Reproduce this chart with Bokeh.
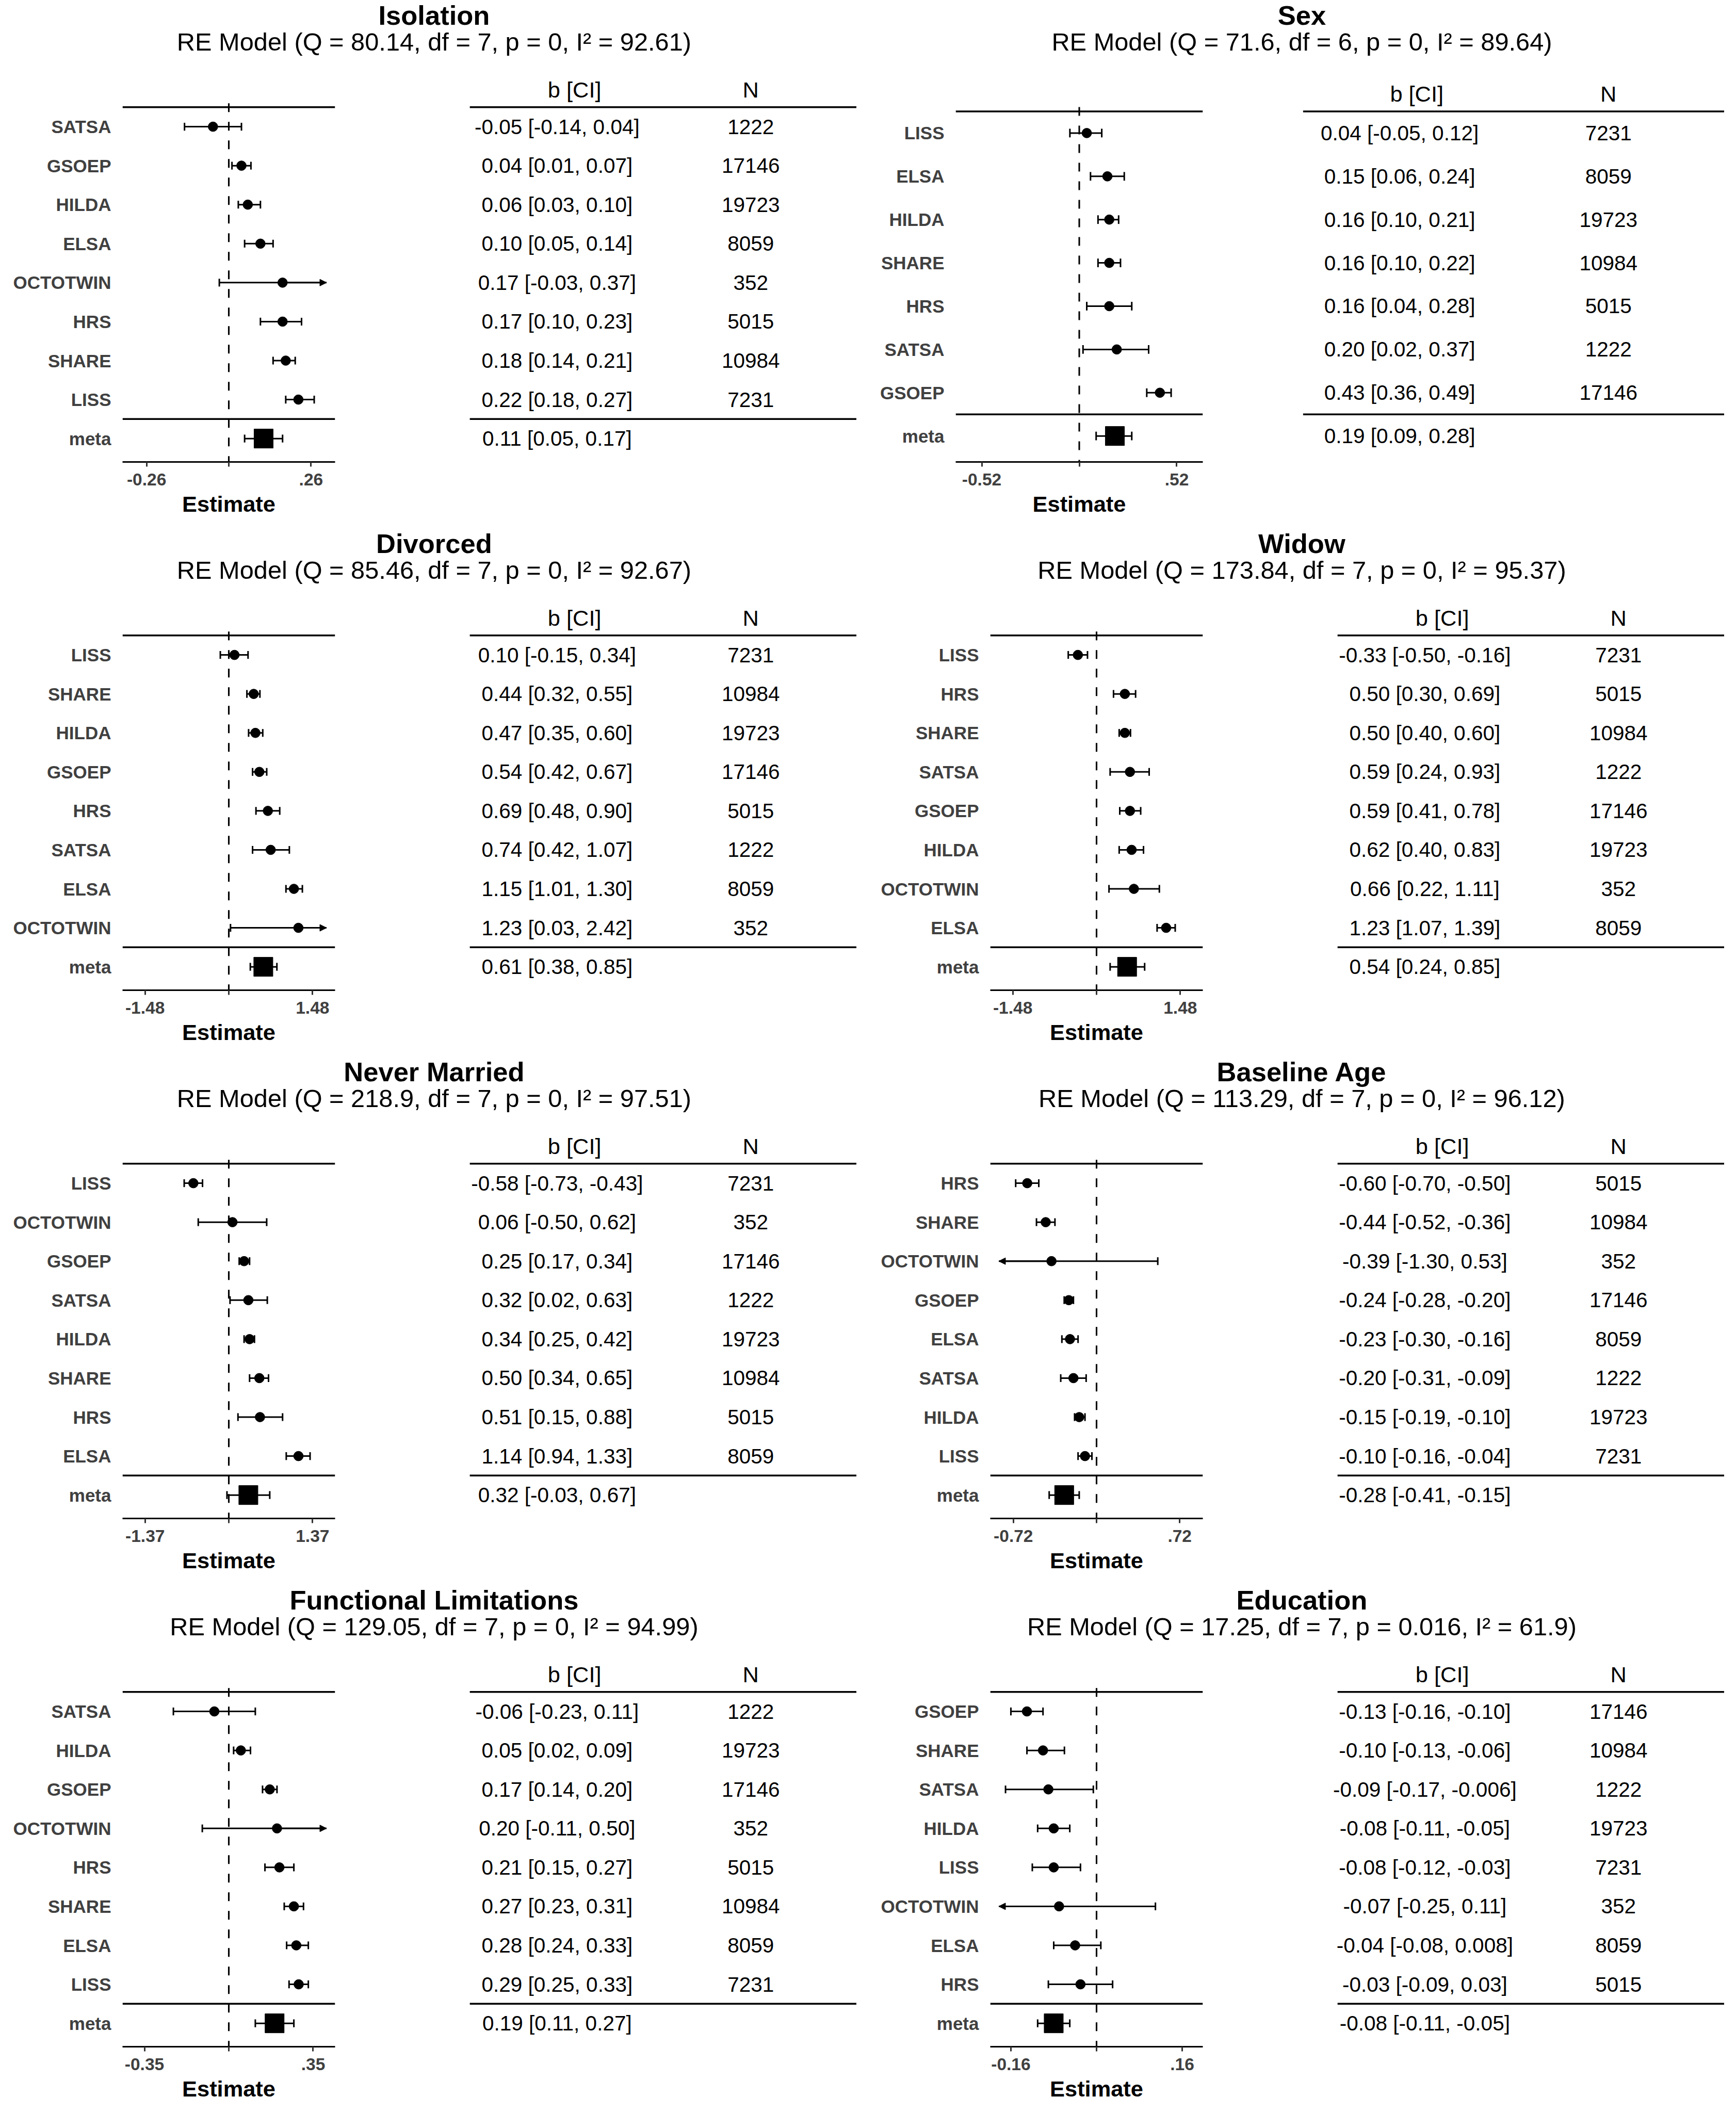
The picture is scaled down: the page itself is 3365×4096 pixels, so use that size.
from bokeh.plotting import figure
from bokeh.models import Range1d, FixedTicker, ColumnDataSource, Arrow, NormalHead
from bokeh.layouts import column, row
from bokeh.core.properties import value
from bokeh.embed import file_html
from bokeh.resources import INLINE

# ------------------------------------------------------------------ data
titles = ["Isolation", "Sex", "Divorced", "Widow", "Never Married",
          "Baseline Age", "Functional Limitations", "Education"]
q_stat = [80.14, 71.6, 85.46, 173.84, 218.9, 113.29, 129.05, 17.25]
df_stat = [7, 6, 7, 7, 7, 7, 7, 7]
p_stat = [0, 0, 0, 0, 0, 0, 0, 0.016]
i2_stat = [92.61, 89.64, 92.67, 95.37, 97.51, 96.12, 94.99, 61.9]

iso_study = ["SATSA", "GSOEP", "HILDA", "ELSA", "OCTOTWIN", "HRS", "SHARE", "LISS"]
iso_b = [-0.05, 0.04, 0.06, 0.10, 0.17, 0.17, 0.18, 0.22]
iso_lo = [-0.14, 0.01, 0.03, 0.05, -0.03, 0.10, 0.14, 0.18]
iso_hi = [0.04, 0.07, 0.10, 0.14, 0.37, 0.23, 0.21, 0.27]
iso_n = [1222, 17146, 19723, 8059, 352, 5015, 10984, 7231]
iso_meta = [0.11, 0.05, 0.17]

sex_study = ["LISS", "ELSA", "HILDA", "SHARE", "HRS", "SATSA", "GSOEP"]
sex_b = [0.04, 0.15, 0.16, 0.16, 0.16, 0.20, 0.43]
sex_lo = [-0.05, 0.06, 0.10, 0.10, 0.04, 0.02, 0.36]
sex_hi = [0.12, 0.24, 0.21, 0.22, 0.28, 0.37, 0.49]
sex_n = [7231, 8059, 19723, 10984, 5015, 1222, 17146]
sex_meta = [0.19, 0.09, 0.28]

div_study = ["LISS", "SHARE", "HILDA", "GSOEP", "HRS", "SATSA", "ELSA", "OCTOTWIN"]
div_b = [0.10, 0.44, 0.47, 0.54, 0.69, 0.74, 1.15, 1.23]
div_lo = [-0.15, 0.32, 0.35, 0.42, 0.48, 0.42, 1.01, 0.03]
div_hi = [0.34, 0.55, 0.60, 0.67, 0.90, 1.07, 1.30, 2.42]
div_n = [7231, 10984, 19723, 17146, 5015, 1222, 8059, 352]
div_meta = [0.61, 0.38, 0.85]

wid_study = ["LISS", "HRS", "SHARE", "SATSA", "GSOEP", "HILDA", "OCTOTWIN", "ELSA"]
wid_b = [-0.33, 0.50, 0.50, 0.59, 0.59, 0.62, 0.66, 1.23]
wid_lo = [-0.50, 0.30, 0.40, 0.24, 0.41, 0.40, 0.22, 1.07]
wid_hi = [-0.16, 0.69, 0.60, 0.93, 0.78, 0.83, 1.11, 1.39]
wid_n = [7231, 5015, 10984, 1222, 17146, 19723, 352, 8059]
wid_meta = [0.54, 0.24, 0.85]

nev_study = ["LISS", "OCTOTWIN", "GSOEP", "SATSA", "HILDA", "SHARE", "HRS", "ELSA"]
nev_b = [-0.58, 0.06, 0.25, 0.32, 0.34, 0.50, 0.51, 1.14]
nev_lo = [-0.73, -0.50, 0.17, 0.02, 0.25, 0.34, 0.15, 0.94]
nev_hi = [-0.43, 0.62, 0.34, 0.63, 0.42, 0.65, 0.88, 1.33]
nev_n = [7231, 352, 17146, 1222, 19723, 10984, 5015, 8059]
nev_meta = [0.32, -0.03, 0.67]

age_study = ["HRS", "SHARE", "OCTOTWIN", "GSOEP", "ELSA", "SATSA", "HILDA", "LISS"]
age_b = [-0.60, -0.44, -0.39, -0.24, -0.23, -0.20, -0.15, -0.10]
age_lo = [-0.70, -0.52, -1.30, -0.28, -0.30, -0.31, -0.19, -0.16]
age_hi = [-0.50, -0.36, 0.53, -0.20, -0.16, -0.09, -0.10, -0.04]
age_n = [5015, 10984, 352, 17146, 8059, 1222, 19723, 7231]
age_meta = [-0.28, -0.41, -0.15]

fun_study = ["SATSA", "HILDA", "GSOEP", "OCTOTWIN", "HRS", "SHARE", "ELSA", "LISS"]
fun_b = [-0.06, 0.05, 0.17, 0.20, 0.21, 0.27, 0.28, 0.29]
fun_lo = [-0.23, 0.02, 0.14, -0.11, 0.15, 0.23, 0.24, 0.25]
fun_hi = [0.11, 0.09, 0.20, 0.50, 0.27, 0.31, 0.33, 0.33]
fun_n = [1222, 19723, 17146, 352, 5015, 10984, 8059, 7231]
fun_meta = [0.19, 0.11, 0.27]

edu_study = ["GSOEP", "SHARE", "SATSA", "HILDA", "LISS", "OCTOTWIN", "ELSA", "HRS"]
edu_b = [-0.13, -0.10, -0.09, -0.08, -0.08, -0.07, -0.04, -0.03]
edu_lo = [-0.16, -0.13, -0.17, -0.11, -0.12, -0.25, -0.08, -0.09]
edu_hi = [-0.10, -0.06, -0.006, -0.05, -0.03, 0.11, 0.008, 0.03]
edu_n = [17146, 10984, 1222, 19723, 7231, 352, 8059, 5015]
edu_meta = [-0.08, -0.11, -0.05]

tick_val = [0.26, 0.52, 1.48, 1.48, 1.37, 0.72, 0.35, 0.16]
tick_neg = ["-0.26", "-0.52", "-1.48", "-1.48", "-1.37", "-0.72", "-0.35", "-0.16"]
tick_pos = [".26", ".52", "1.48", "1.48", "1.37", ".72", ".35", ".16"]

panels_data = [
    (iso_study, iso_b, iso_lo, iso_hi, iso_n, iso_meta),
    (sex_study, sex_b, sex_lo, sex_hi, sex_n, sex_meta),
    (div_study, div_b, div_lo, div_hi, div_n, div_meta),
    (wid_study, wid_b, wid_lo, wid_hi, wid_n, wid_meta),
    (nev_study, nev_b, nev_lo, nev_hi, nev_n, nev_meta),
    (age_study, age_b, age_lo, age_hi, age_n, age_meta),
    (fun_study, fun_b, fun_lo, fun_hi, fun_n, fun_meta),
    (edu_study, edu_b, edu_lo, edu_hi, edu_n, edu_meta),
]

# ------------------------------------------------------------------ layout / style
x_half = [0.336, 0.659, 1.878, 1.878, 1.739, 0.920, 0.441, 0.1985]  # axis half-range
S = 0.975
PW, PH = 1682, 1024
TH = 137                      # title strip height (px)
AXIS_REF = 917.7              # axis line y (reference px, panel-local)
FOREST_R = 666                # forest right edge (reference px)
TABLE_R = 1702
TABLE_PAD = 40                # table figure starts this far left of its rule
FONT = "Liberation Sans"
GREY = "#404040"

lay_std = dict(fl=243, tl=212.6, tab_l=933.5, bh_x=1141.7, bv_x=1107, n_x=1492, hdr_y=178.3)
lay_sex = dict(fl=174, tl=221.0, tab_l=865, bh_x=1091, bv_x=1057, n_x=1472, hdr_y=186.5)
lays = [lay_std, lay_sex] + [lay_std] * 6


def fmt(v):
    if v != 0 and abs(v) < 0.01:
        return f"{v:.3f}"
    return f"{v:.2f}"


def blank(fig):
    fig.grid.visible = False
    fig.outline_line_color = None
    fig.background_fill_color = "white"
    fig.border_fill_color = "white"


def build(i):
    L = lays[i]
    studies, b, lo, hi, ns, meta = panels_data[i]
    n = len(studies)
    R = x_half[i]
    clamp = 0.92 * R
    t = tick_val[i]

    axis_out = round(AXIS_REF * S)
    fw = round((L["tab_l"] - TABLE_PAD) * S)
    fh = PH - TH
    frame_h = axis_out - TH
    mb_bot = fh - frame_h
    fl = round(L["fl"] * S)
    fr = round(FOREST_R * S)
    rho = (axis_out - L["tl"] * S) / (n + 1.1)
    y0 = -n - 0.6
    y1 = y0 + frame_h / rho

    # ---------------- forest plot
    pf = figure(width=fw, height=fh, x_range=Range1d(-R, R), y_range=Range1d(y0, y1),
                min_border_left=fl, min_border_right=fw - fr, min_border_top=0,
                min_border_bottom=mb_bot, toolbar_location=None,
                output_backend="svg")
    blank(pf)

    rows = [-k for k in range(n)]
    ticks_y = rows + [-n]
    pf.yaxis.ticker = FixedTicker(ticks=ticks_y, minor_ticks=[])
    pf.yaxis.major_label_overrides = {y: s for y, s in zip(ticks_y, studies + ["meta"])}
    pf.yaxis.axis_line_color = None
    pf.yaxis.major_tick_line_color = None
    pf.yaxis.minor_tick_line_color = None
    pf.yaxis.major_tick_out = 0
    pf.yaxis.major_tick_in = 0
    pf.yaxis.major_label_standoff = 22
    pf.yaxis.major_label_text_font = FONT
    pf.yaxis.major_label_text_font_size = "35px"
    pf.yaxis.major_label_text_font_style = "bold"
    pf.yaxis.major_label_text_color = GREY

    pf.xaxis.ticker = FixedTicker(ticks=[-t, 0, t], minor_ticks=[])
    pf.xaxis.major_label_overrides = {-t: tick_neg[i], 0: "", t: tick_pos[i]}
    pf.xaxis.axis_line_width = 3.2
    pf.xaxis.axis_line_color = "black"
    pf.xaxis.major_tick_out = 9
    pf.xaxis.major_tick_in = 0
    pf.xaxis.major_tick_line_width = 3
    pf.xaxis.major_tick_line_color = "#333333"
    pf.xaxis.minor_tick_line_color = None
    pf.xaxis.major_label_standoff = 13
    pf.xaxis.major_label_text_font = FONT
    pf.xaxis.major_label_text_font_size = "33.5px"
    pf.xaxis.major_label_text_font_style = "bold"
    pf.xaxis.major_label_text_color = GREY
    pf.xaxis.axis_label = "Estimate"
    pf.xaxis.axis_label_text_font = FONT
    pf.xaxis.axis_label_text_font_size = "43.4px"
    pf.xaxis.axis_label_text_font_style = "bold"
    pf.xaxis.axis_label_text_color = "black"
    pf.xaxis.axis_label_standoff = 9

    # reference line and rules
    pf.segment(x0=[0], y0=[0.6], x1=[0], y1=[y0], line_dash="17 19",
               line_width=3.1, color="black")
    pf.segment(x0=[-R, -R], y0=[0.5, -n + 0.5], x1=[R, R], y1=[0.5, -n + 0.5],
               line_width=3.5, color="black")

    # confidence intervals
    sx0 = [max(v, -clamp) for v in lo] + [meta[1]]
    sx1 = [min(v, clamp) for v in hi] + [meta[2]]
    sy = rows + [-n]
    pf.segment(x0=sx0, y0=sy, x1=sx1, y1=sy, line_width=3.0, color="black")

    cap_x, cap_y = [], []
    ar = dict(xs=[], ys=[], xe=[], ye=[])
    for y, e, l, h in zip(sy, b + [meta[0]], lo + [meta[1]], hi + [meta[2]]):
        if l >= -clamp:
            cap_x.append(l); cap_y.append(y)
        else:
            ar["xs"].append(e); ar["ys"].append(y); ar["xe"].append(-clamp); ar["ye"].append(y)
        if h <= clamp:
            cap_x.append(h); cap_y.append(y)
        else:
            ar["xs"].append(e); ar["ys"].append(y); ar["xe"].append(clamp); ar["ye"].append(y)
    pf.segment(x0=cap_x, y0=[y - 0.1 for y in cap_y], x1=cap_x,
               y1=[y + 0.1 for y in cap_y], line_width=3.0, color="black")
    if ar["xs"]:
        pf.add_layout(Arrow(end=NormalHead(size=13, fill_color="black", line_color="black",
                                           line_width=1),
                            x_start="xs", y_start="ys", x_end="xe", y_end="ye",
                            line_width=3.0, line_color="black",
                            source=ColumnDataSource(ar)))

    pf.scatter(x=b, y=rows, size=18.7, marker="circle", color="black")
    pf.scatter(x=[meta[0]], y=[-n], size=37, marker="square", color="black")

    # ---------------- table (same frame top/bottom as the forest plot)
    tw = PW - fw
    pt = figure(width=tw, height=fh, x_range=Range1d(fw / S, PW / S),
                y_range=Range1d(y0, y1), min_border_left=0, min_border_right=0,
                min_border_top=0, min_border_bottom=mb_bot,
                x_axis_location=None, y_axis_location=None,
                toolbar_location=None, output_backend="svg")
    blank(pt)
    yh = 0.5 + (L["tl"] - L["hdr_y"]) * S / rho
    pt.text(x=[L["bh_x"], L["n_x"]], y=[yh, yh], text=["b [CI]", "N"],
            text_font=value(FONT), text_font_size=value("43.4px"),
            text_align="center", text_baseline="middle", text_color="black")
    ci_txt = [f"{fmt(e)} [{fmt(l)}, {fmt(h)}]" for e, l, h in zip(b, lo, hi)]
    ci_txt.append(f"{fmt(meta[0])} [{fmt(meta[1])}, {fmt(meta[2])}]")
    pt.text(x=[L["bv_x"]] * (n + 1), y=rows + [-n], text=ci_txt,
            text_font=value(FONT), text_font_size=value("40.5px"),
            text_align="center", text_baseline="middle", text_color="black")
    pt.text(x=[L["n_x"]] * n, y=rows, text=[str(v) for v in ns],
            text_font=value(FONT), text_font_size=value("40.5px"),
            text_align="center", text_baseline="middle", text_color="black")
    pt.segment(x0=[L["tab_l"], L["tab_l"]], y0=[0.5, -n + 0.5],
               x1=[TABLE_R, TABLE_R], y1=[0.5, -n + 0.5],
               line_width=3.5, color="black")

    # ---------------- titles
    ptt = figure(width=PW, height=TH, x_range=Range1d(0, PW / S),
                 y_range=Range1d(TH / S, 0), min_border=0,
                 x_axis_location=None, y_axis_location=None,
                 toolbar_location=None, output_backend="svg")
    blank(ptt)
    sub = (f"RE Model (Q = {q_stat[i]}, df = {df_stat[i]}, p = {p_stat[i]}, "
           f"I\u00b2 = {i2_stat[i]})")
    ptt.text(x=[862.5], y=[30.2], text=[titles[i]], text_font=value(FONT),
             text_font_size=value("52.5px"), text_font_style="bold",
             text_align="center", text_baseline="middle", text_color="black")
    ptt.text(x=[862.5], y=[82.8], text=[sub], text_font=value(FONT),
             text_font_size=value("48.75px"),
             text_align="center", text_baseline="middle", text_color="black")

    return column(ptt, row(pf, pt))


P = [build(i) for i in range(8)]
layout = column(row(P[0], P[1]), row(P[2], P[3]), row(P[4], P[5]), row(P[6], P[7]))

with open("out.html", "w") as f:
    f.write(file_html(layout, INLINE))
